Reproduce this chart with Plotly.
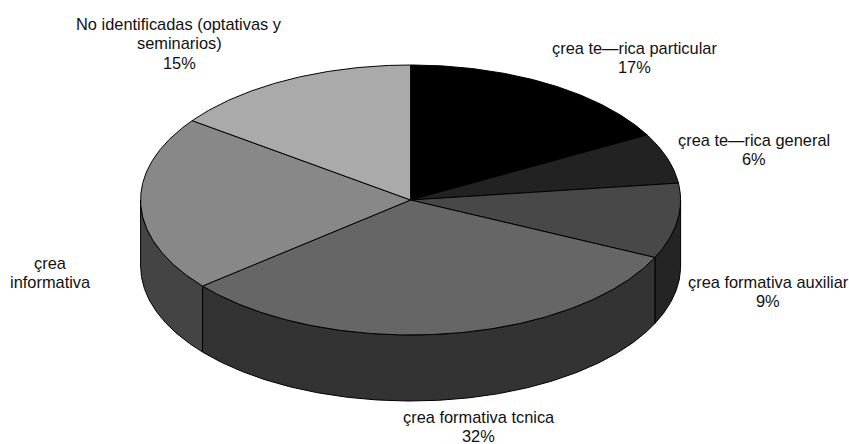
import math
import plotly.graph_objects as go

# Share of each area, clockwise from twelve o'clock
categories = ["çrea te—rica particular", "çrea te—rica general", "çrea formativa auxiliar",
              "çrea formativa tcnica", "çrea informativa", "No identificadas (optativas y seminarios)"]
values = [17, 6, 9, 32, 21, 15]
label_lines = [
    ["çrea te—rica particular", "17%"],
    ["çrea te—rica general", "6%"],
    ["çrea formativa auxiliar", "9%"],
    ["çrea formativa tcnica", "32%"],
    ["çrea", "informativa"],
    ["No identificadas (optativas y", "seminarios)", "15%"],
]
top_colors = ["#000000", "#222222", "#484848", "#666666", "#888888", "#aaaaaa"]
side_colors = ["#000000", "#111111", "#242424", "#333333", "#444444", "#555555"]
label_x = [634.5, 753.7, 768, 478.7, 50.8, 179]
label_y = [48, 140, 282, 416.6, 263, 24]

W, H = 849, 444
CX, CY, RX, RY, DEPTH = 410.6, 200, 270, 135, 66
LINE_GAP = 19.3


def rim(deg):
    a = math.radians(deg)
    return CX + RX * math.sin(a), CY - RY * math.cos(a)


def arc(a0, a1):
    n = max(2, int(abs(a1 - a0) * 2))
    return [rim(a0 + (a1 - a0) * i / n) for i in range(n + 1)]


fig = go.Figure()


def add_poly(points, fill):
    fig.add_trace(go.Scatter(
        x=[p[0] for p in points], y=[p[1] for p in points],
        mode="lines", fill="toself", fillcolor=fill,
        line=dict(color="#000000", width=1), hoverinfo="skip", showlegend=False,
    ))


total = sum(values)
bounds = [0]
for v in values:
    bounds.append(bounds[-1] + v / total * 360)

# Outer wall: only the front half of the rim faces the viewer
for i in range(len(values)):
    a0, a1 = max(bounds[i], 90), min(bounds[i + 1], 270)
    if a0 < a1:
        upper = arc(a0, a1)
        lower = [(x, y + DEPTH) for x, y in reversed(upper)]
        add_poly(upper + lower + upper[:1], side_colors[i])

# Top face
for i in range(len(values)):
    add_poly([(CX, CY)] + arc(bounds[i], bounds[i + 1]) + [(CX, CY)], top_colors[i])

annotations = []
for lines, x, y in zip(label_lines, label_x, label_y):
    for k, text in enumerate(lines):
        annotations.append(dict(
            x=x, y=y + k * LINE_GAP, text=text, showarrow=False,
            xanchor="center", yanchor="middle",
            font=dict(family="Liberation Sans, Arial, sans-serif", size=16.4, color="#111111"),
        ))

fig.update_layout(
    width=W, height=H, autosize=False,
    margin=dict(l=0, r=0, t=0, b=0),
    paper_bgcolor="#ffffff", plot_bgcolor="#ffffff",
    xaxis=dict(range=[0, W], visible=False, fixedrange=True),
    yaxis=dict(range=[H, 0], visible=False, fixedrange=True),
    annotations=annotations,
    showlegend=False,
)
fig.write_html("out.html", config=dict(displayModeBar=False))
